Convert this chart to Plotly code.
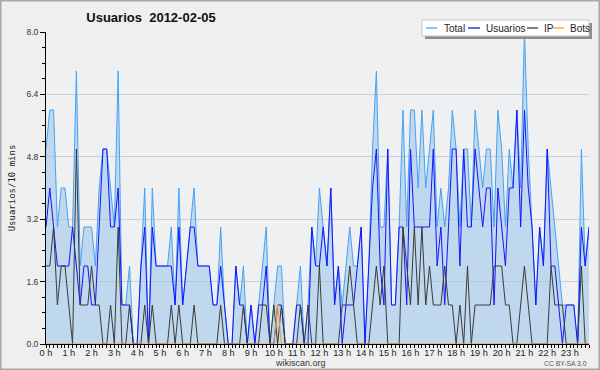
import plotly.graph_objects as go

# 10-minute slots over the day (144 slots)
slots = list(range(144))
hour_ticks = list(range(0, 144, 6))
hour_labels = [f"{h} h" for h in range(24)]
y_ticks = [0.0, 1.6, 3.2, 4.8, 6.4, 8.0]
y_labels = ["0.0", "1.6", "3.2", "4.8", "6.4", "8.0"]

total = [5,6,6,3,4,4,3,3,7,2, 3,3,3,2,4,5,5,4,3,7,
         1,1,2,0,0,2,4,0,4,2, 2,2,2,3,1,4,1,2,3,4,
         2,2,2,2,1,1,3,1,0,0, 2,1,2,0,1,0,1,2,3,0,
         1,2,2,0,0,0,1,2,0,1, 3,2,4,3,2,4,1,2,1,2,
         3,2,2,3,0,2,5,7,3,3, 5,1,1,3,6,3,6,6,4,6,
         4,5,6,3,4,3,4,6,5,3, 5,5,3,6,5,4,5,5,3,6,
         5,3,5,4,6,4,8,5,3,1, 3,2,5,4,3,2,1,1,1,1,
         0,5,2,3]
usuarios = [3,4,3,2,2,2,2,3,2,1, 2,2,1,1,3,5,5,3,3,4,
            1,1,1,0,0,2,3,0,3,2, 2,2,2,2,1,3,1,2,3,3,
            2,2,2,2,1,1,2,1,0,0, 2,1,1,0,1,0,1,1,2,0,
            0,1,1,0,0,0,1,1,0,0, 3,2,2,3,2,4,1,2,0,1,
            1,1,2,3,0,2,4,5,2,1, 5,1,1,3,3,1,5,3,3,3,
            3,3,5,2,3,1,3,5,5,2, 5,3,3,5,4,3,4,4,1,4,
            3,2,4,4,6,3,6,4,3,1, 3,2,5,2,2,1,0,1,1,1,
            0,3,2,3]
ip = [2,2,3,1,2,2,1,0,5,1, 1,1,2,1,1,0,0,1,0,3,
      0,0,1,0,0,0,1,0,1,0, 0,0,0,1,0,1,0,0,0,1,
      0,0,0,0,0,0,1,0,0,0, 0,0,1,0,0,0,0,1,1,0,
      1,0,1,0,0,0,0,1,0,1, 0,0,2,0,0,0,0,0,1,1,
      2,1,0,0,0,0,1,2,1,2, 0,0,0,0,3,2,1,3,1,3,
      1,2,1,1,1,2,1,1,0,1, 0,2,0,1,1,1,1,1,2,2,
      2,1,1,0,0,1,2,1,0,0, 0,0,0,2,1,1,1,0,0,0,
      0,2,0,0]
bots = [0,0,0,0,0,0,0,0,0,0, 0,0,0,0,0,0,0,0,0,0,
        0,0,0,0,0,0,0,0,0,0, 0,0,0,0,0,0,0,0,0,0,
        0,0,0,0,0,0,0,0,0,0, 0,0,0,0,0,0,0,0,0,0,
        0,1,0,0,0,0,0,0,0,0, 0,0,0,0,0,0,0,0,0,0,
        0,0,0,0,0,0,0,0,0,0, 0,0,0,0,0,0,0,0,0,0,
        0,0,0,0,0,0,0,0,0,0, 0,0,0,0,0,0,0,0,0,0,
        0,0,0,0,0,0,0,0,0,0, 0,0,0,0,0,0,0,0,0,0,
        0,0,0,0]

C_TOTAL = "#45a2f4"
C_US = "#1414ff"
C_IP = "#3a3a3a"
C_BOTS = "#ff9a1a"
FONT = "Liberation Sans, Arial, sans-serif"

W, H = 600, 370
L, R, T, B = 46, 11, 32, 26
PW, PH = W - L - R, H - T - B


def px(x):
    return (x - L) / PW


def py(y):
    return (H - B - y) / PH


fig = go.Figure()
fig.add_trace(go.Scatter(x=slots, y=total, mode="lines", name="Total",
                         line=dict(color=C_TOTAL, width=1),
                         fill="tozeroy", fillcolor="rgba(160,200,235,0.6)"))
fig.add_trace(go.Scatter(x=slots, y=usuarios, mode="lines", name="Usuarios",
                         line=dict(color=C_US, width=1)))
fig.add_trace(go.Scatter(x=slots, y=ip, mode="lines", name="IP",
                         line=dict(color=C_IP, width=1)))
fig.add_trace(go.Scatter(x=slots, y=bots, mode="lines", name="Bots",
                         line=dict(color=C_BOTS, width=1)))

shapes = [
    dict(type="rect", xref="paper", yref="paper", x0=px(0.5), x1=px(599.5),
         y0=py(369.5), y1=py(0.5), line=dict(color="#a8a8a8", width=2),
         layer="above"),
    dict(type="rect", xref="paper", yref="paper", x0=px(425), x1=px(592),
         y0=py(39), y1=py(23), fillcolor="#8c8c8c", line=dict(width=0),
         layer="above"),
    dict(type="rect", xref="paper", yref="paper", x0=px(422), x1=px(589),
         y0=py(36), y1=py(20), fillcolor="white",
         line=dict(color="#c8c8c8", width=1), layer="above"),
]
annotations = []
legend_items = [("Total", C_TOTAL, 426, 437, 442),
                ("Usuarios", C_US, 468, 480, 484),
                ("IP", C_IP, 527, 538, 542),
                ("Bots", C_BOTS, 553, 564, 568)]
for name, col, a, b, t in legend_items:
    shapes.append(dict(type="line", xref="paper", yref="paper", x0=px(a), x1=px(b),
                       y0=py(28), y1=py(28), line=dict(color=col, width=1.3),
                       layer="above"))
    annotations.append(dict(text=name, xref="paper", yref="paper", x=px(t), y=py(28),
                            xanchor="left", yanchor="middle", showarrow=False,
                            font=dict(family=FONT, size=10, color="#222")))

annotations.append(dict(text="wikiscan.org", xref="paper", yref="paper",
                        x=px(300), y=py(363), xanchor="center", yanchor="middle",
                        showarrow=False, font=dict(family=FONT, size=9, color="#333")))
annotations.append(dict(text="CC BY-SA 3.0", xref="paper", yref="paper",
                        x=px(589), y=py(363), xanchor="right", yanchor="middle",
                        showarrow=False, font=dict(family=FONT, size=6.8, color="#555")))

fig.update_layout(
    width=W, height=H,
    margin=dict(l=L, r=R, t=T, b=B, autoexpand=False),
    paper_bgcolor="#efefef",
    plot_bgcolor="#eff0f1",
    showlegend=False,
    title=dict(text="<b>Usuarios  2012-02-05</b>", xref="container", yref="container",
               x=151 / W, y=1 - 17 / H, xanchor="center", yanchor="middle",
               font=dict(family=FONT, size=13, color="#111")),
    shapes=shapes,
    annotations=annotations,
    xaxis=dict(range=[0, 143], tickmode="array", tickvals=hour_ticks, ticktext=hour_labels,
               showgrid=False, zeroline=False, showline=True, linecolor="black", linewidth=1,
               ticks="outside", ticklen=3, tickcolor="black", tickwidth=1,
               ticklabelstandoff=-3,
               minor=dict(dtick=1, tick0=0, ticks="outside", ticklen=3, tickcolor="black"),
               tickfont=dict(family=FONT, size=9.2, color="#222")),
    yaxis=dict(range=[0, 8], tickmode="array", tickvals=y_ticks, ticktext=y_labels,
               showgrid=True, gridcolor="#cfcfcf", gridwidth=1, zeroline=False,
               showline=True, linecolor="black", linewidth=1,
               ticks="outside", ticklen=5, tickcolor="black", tickwidth=1,
               minor=dict(dtick=0.4, tick0=0, ticks="outside", ticklen=3,
                          tickcolor="black", showgrid=False),
               tickfont=dict(family=FONT, size=8.5, color="#333"),
               title=dict(text="Usuarios/10 mins", standoff=9,
                          font=dict(family="DejaVu Sans Mono, Liberation Mono, monospace",
                                    size=9, color="#222"))),
)

fig.write_html("out.html", config={"displayModeBar": False},
               post_script="document.body.style.margin='0';document.body.style.padding='0';"
                           "document.body.style.overflow='hidden';")
